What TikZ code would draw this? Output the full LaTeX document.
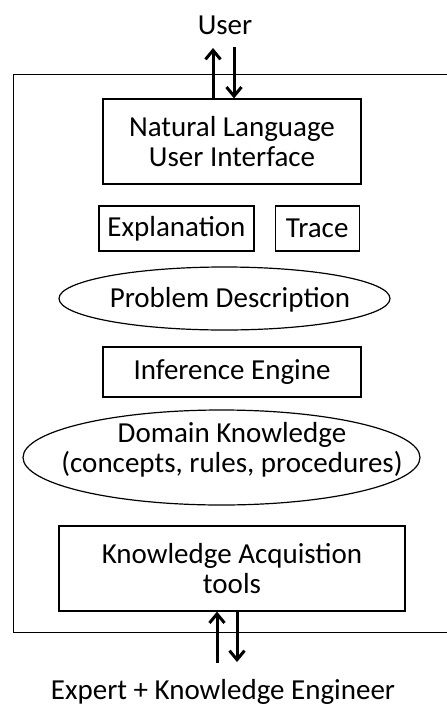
\documentclass[tikz,border=0pt]{standalone}
\usepackage{fontspec}
\setmainfont{Carlito}
\usepackage{tikz}
\usetikzlibrary{shapes.geometric,arrows.meta,positioning}
\tikzset{%
  partBox/.style={%
    rectangle,
    draw=black,
    line width=1.2pt,
    inner sep=0pt,
    align=center
  },
  partOval/.style={%
    ellipse,
    draw=black,
    line width=1.2pt,
    inner sep=0pt
  },
  ioArrow/.style={%
    -{Straight Barb[length=9pt,width=15pt]},
    line width=3pt
  },
  ioLabel/.style={%
    inner sep=0pt,
    align=center
  }
}

\begin{document}
\begin{tikzpicture}[x=1pt,y=-1pt,font=\fontsize{29}{30}\selectfont]
            \clip (0,0) rectangle (447,707);

            % outer frame of the system, it runs off the right edge
            \node[partBox, anchor=north west, minimum width=480pt, minimum height=558pt] (system) at (13,74) {};

            % parts inside the system
            \node[partBox, minimum width=258pt, minimum height=85pt] (nlui) at (232,141.5) {%
                Natural Language\\
                User Interface
            };
            \node[partBox, minimum width=155pt, minimum height=45pt] (expl) at (176.5,228.5) {Explanation};
            \node[partBox, minimum width=84pt, minimum height=45pt, right=20pt of expl] (trace) {Trace};

            \node[partOval, minimum width=331pt, minimum height=63pt] (problem) at (224.5,298.5) {};
            \node[ioLabel] (problemText) at (230,300) {Problem Description};

            \node[partBox, minimum width=258pt, minimum height=50pt] (engine) at (232,372) {Inference Engine};

            \node[partOval, minimum width=397pt, minimum height=95pt] (domain) at (221.5,457.5) {};
            \node[ioLabel] (domainText) at (232,450) {%
                Domain Knowledge\\
                (concepts, rules, procedures)
            };

            \node[partBox, minimum width=346pt, minimum height=85pt] (kat) at (232,568.5) {%
                Knowledge Acquistion\\
                tools
            };

            % people outside
            \node[ioLabel] (user) at (225,25) {User};
            \node[ioLabel] (expert) at (223,692) {Expert + Knowledge Engineer};

            \coordinate (userUp) at (213,48);
            \coordinate (userDown) at (234,47);
            \coordinate (expertUp) at (217,663);
            \coordinate (expertDown) at (237,662);

            \draw[ioArrow] (nlui.north -| userUp) -- (userUp);
            \draw[ioArrow] (userDown) -- (nlui.north -| userDown);
            \draw[ioArrow] (expertUp) -- (kat.south -| expertUp);
            \draw[ioArrow] (kat.south -| expertDown) -- (expertDown);
        \end{tikzpicture}
\end{document}
